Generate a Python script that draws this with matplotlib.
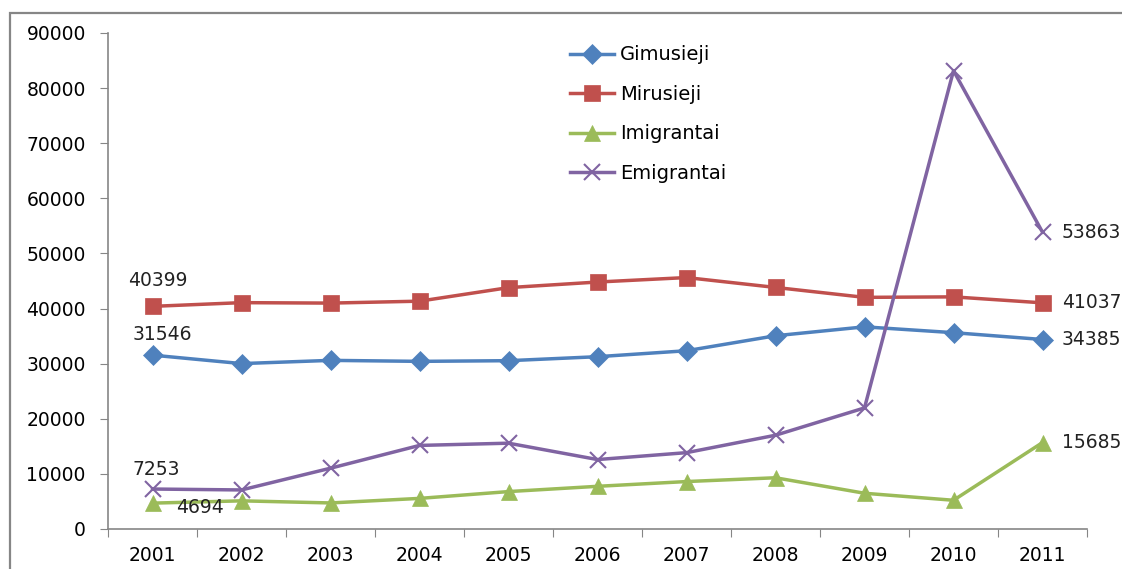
import matplotlib.pyplot as plt
from matplotlib.patches import Rectangle

years = ["2001", "2002", "2003", "2004", "2005", "2006", "2007", "2008", "2009", "2010", "2011"]
gimusieji = [31546, 30014, 30598, 30419, 30541, 31265, 32346, 35065, 36682, 35626, 34385]
mirusieji = [40399, 41072, 40990, 41340, 43799, 44813, 45624, 43832, 42032, 42120, 41037]
imigrantai = [4694, 5110, 4728, 5553, 6789, 7745, 8609, 9297, 6487, 5213, 15685]
emigrantai = [7253, 7086, 11032, 15165, 15571, 12602, 13853, 17015, 21970, 83157, 53863]

W, H, DPI = 1122, 569, 100
GRAY = "#868686"

fig = plt.figure(figsize=(W / DPI, H / DPI), dpi=DPI)
ax = fig.add_axes([108 / W, 40 / H, (1087 - 108) / W, (529 - 33) / H])

# outer chart border (cropped on the right/bottom in the reference)
fig.patches.append(Rectangle((10 / W, -0.1), 1.2, (569 - 13) / H + 0.1,
                             transform=fig.transFigure, fill=False,
                             edgecolor=GRAY, linewidth=1.6, clip_on=False))

x = list(range(len(years)))
series = [
    ("Gimusieji", gimusieji, "#4F81BD", "D", 10),
    ("Mirusieji", mirusieji, "#C0504D", "s", 11),
    ("Imigrantai", imigrantai, "#9BBB59", "^", 12),
    ("Emigrantai", emigrantai, "#8064A2", "x", 11),
]
for name, vals, color, marker, ms in series:
    ax.plot(x, vals, color=color, linewidth=2.5, marker=marker, markersize=ms,
            markeredgewidth=1.5 if marker == "x" else 0.5, markeredgecolor=color,
            label=name, clip_on=False, zorder=3)

ax.set_xlim(-0.5, len(years) - 0.5)
ax.set_ylim(0, 90000)
ax.set_yticks(range(0, 90001, 10000))
ax.set_xticks([i - 0.5 for i in range(len(years) + 1)])
ax.set_xticklabels([])
ax.set_xticks(x, minor=True)
ax.set_xticklabels(years, minor=True)
ax.tick_params(axis="x", which="minor", length=0, pad=12, labelsize=13.5)
ax.tick_params(axis="x", which="major", length=6, color=GRAY, direction="out")
ax.tick_params(axis="y", length=6, color=GRAY, pad=10, labelsize=13.5)
for s in ["top", "right"]:
    ax.spines[s].set_visible(False)
for s in ["left", "bottom"]:
    ax.spines[s].set_color(GRAY)
    ax.spines[s].set_linewidth(1.2)

# data labels
lab = dict(fontsize=13.5, color="#222222")
ax.annotate(str(mirusieji[0]), (x[0], mirusieji[0]), xytext=(4, 12),
            textcoords="offset points", ha="center", va="bottom", **lab)
ax.annotate(str(gimusieji[0]), (x[0], gimusieji[0]), xytext=(7, 8),
            textcoords="offset points", ha="center", va="bottom", **lab)
ax.annotate(str(emigrantai[0]), (x[0], emigrantai[0]), xytext=(3, 7),
            textcoords="offset points", ha="center", va="bottom", **lab)
ax.annotate(str(imigrantai[0]), (x[0], imigrantai[0]), xytext=(17, -3),
            textcoords="offset points", ha="left", va="center", **lab)
for vals in [emigrantai, mirusieji, gimusieji, imigrantai]:
    ax.annotate(str(vals[-1]), (x[-1], vals[-1]), xytext=(14, 0),
                textcoords="offset points", ha="left", va="center",
                annotation_clip=False, **lab)

ax.legend(loc="upper left", bbox_to_anchor=(444 / (1087 - 108), 1.0 + 5 / 496),
          frameon=False, fontsize=14, handlelength=2.3, labelspacing=1.05,
          handletextpad=0.3)

fig.savefig("out.png", dpi=DPI)
